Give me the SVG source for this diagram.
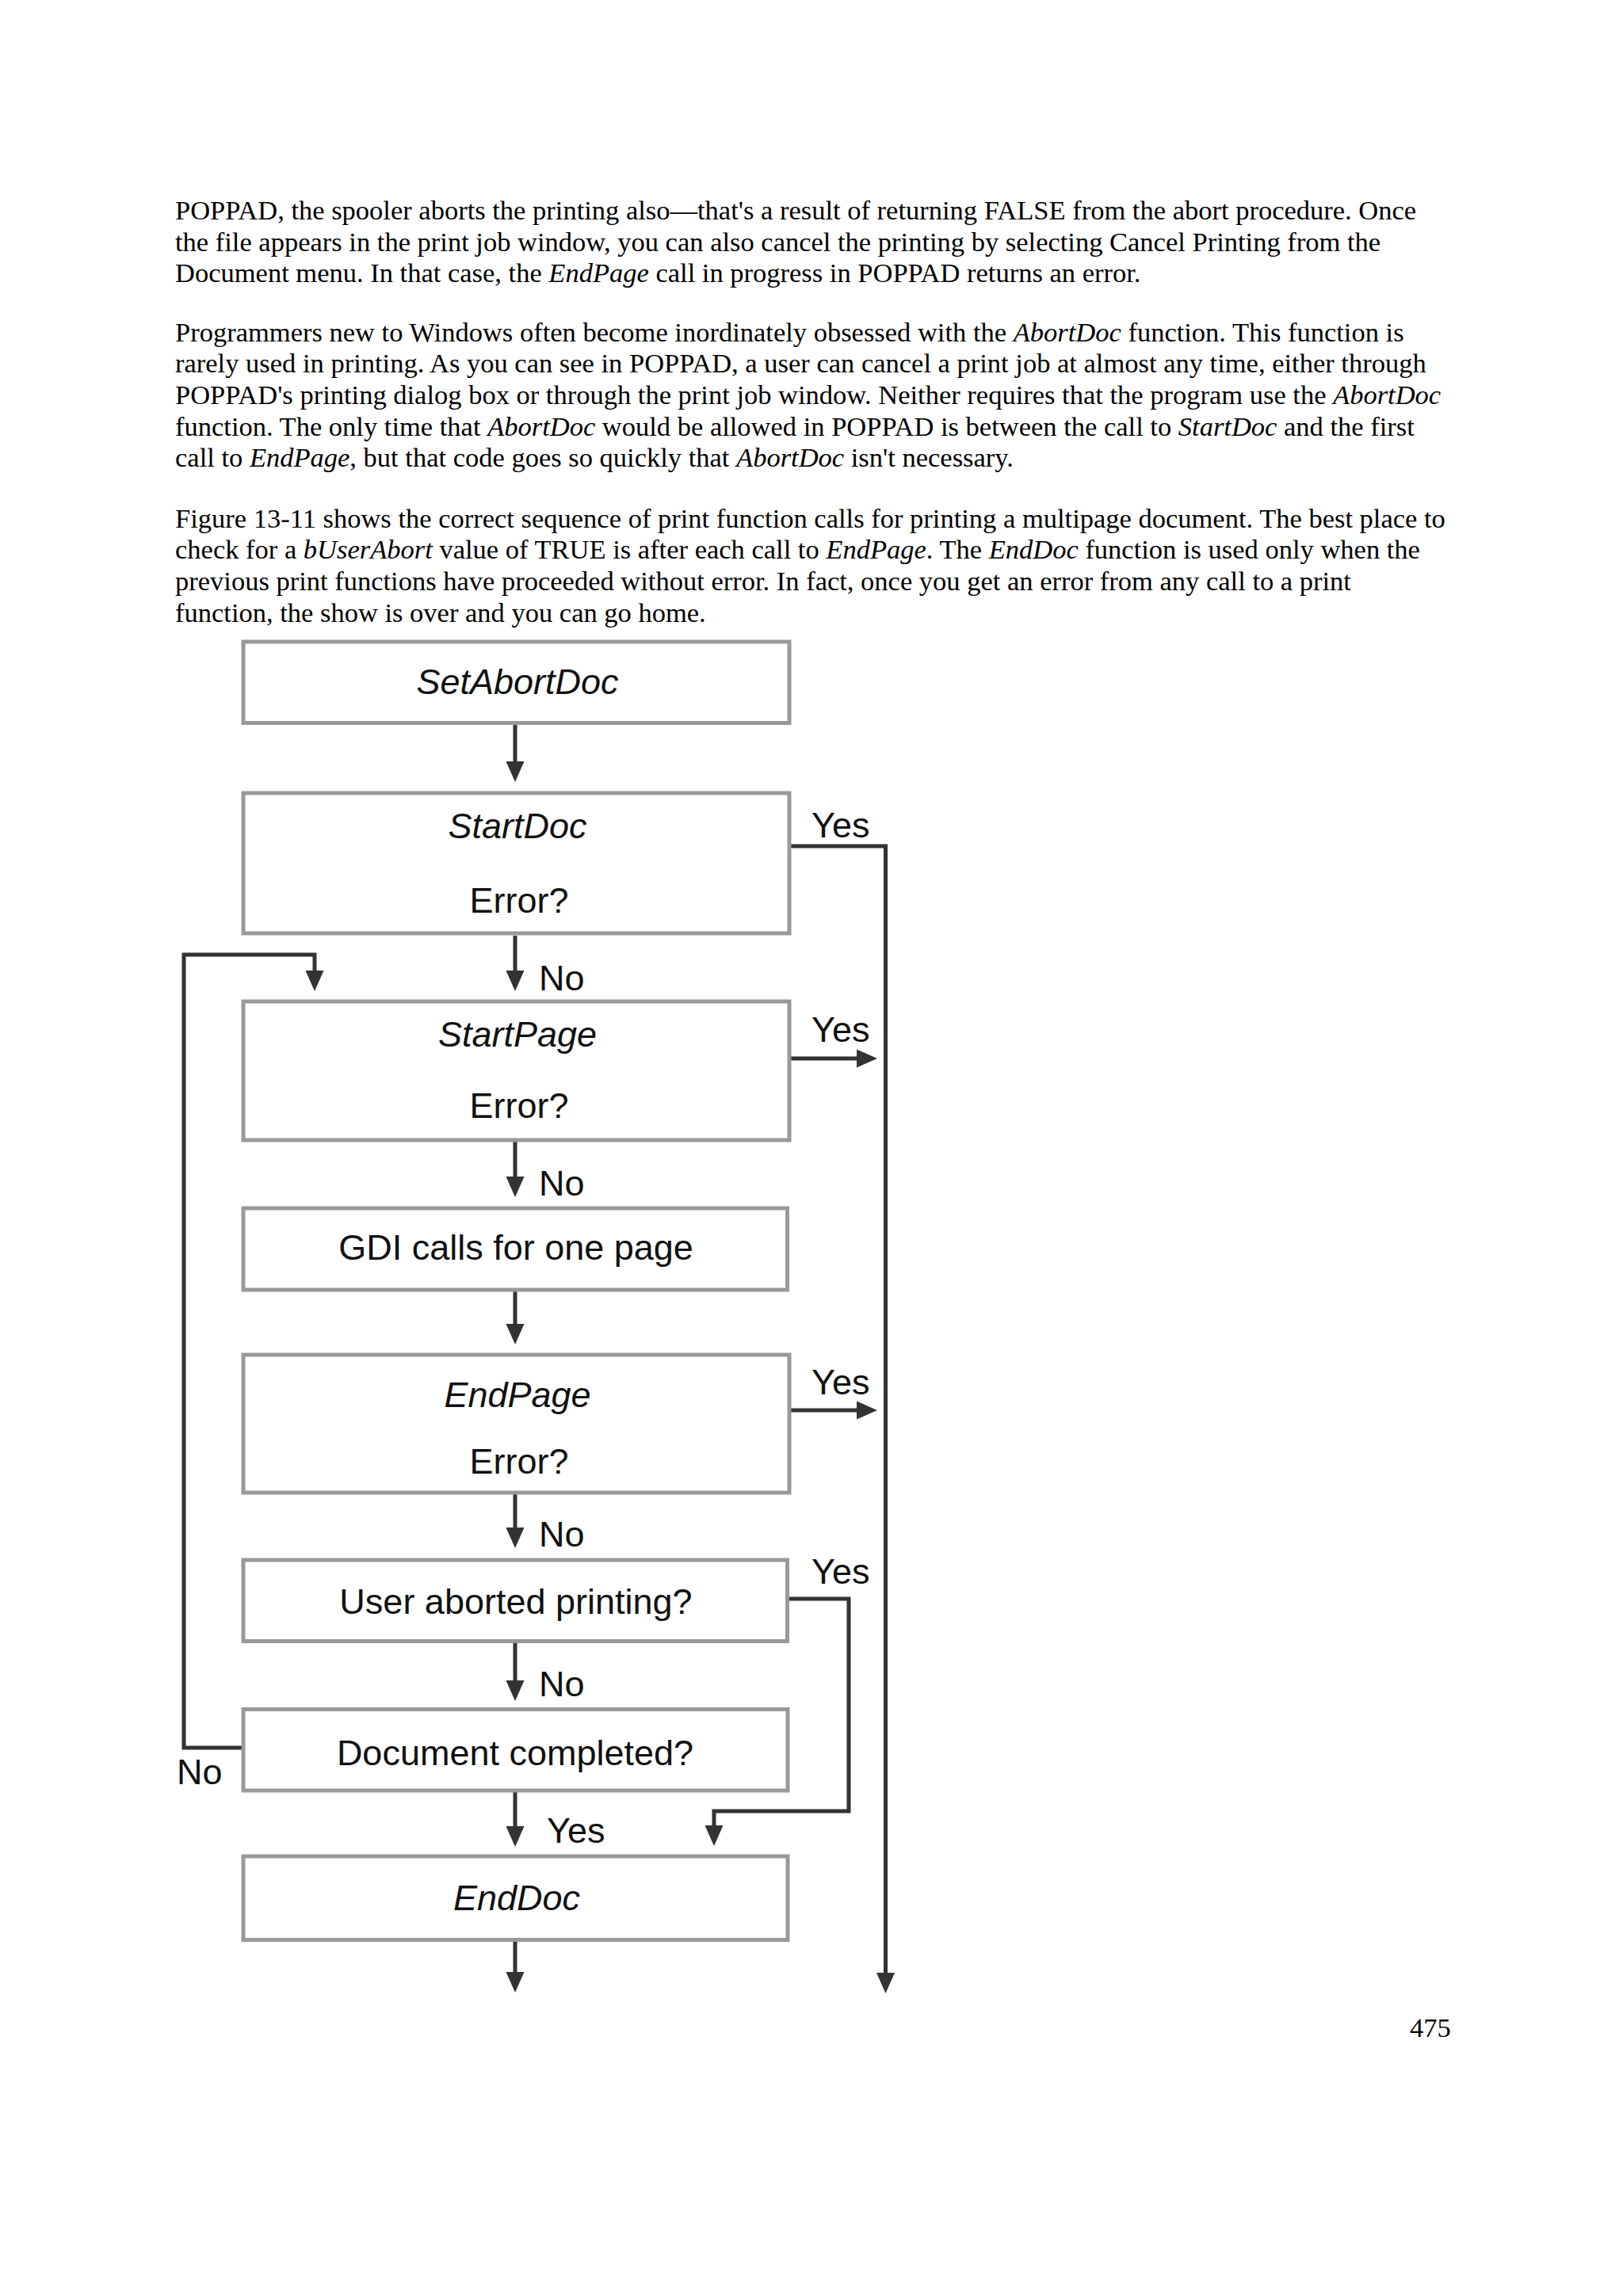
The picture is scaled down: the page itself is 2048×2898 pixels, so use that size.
<svg xmlns="http://www.w3.org/2000/svg" width="2048" height="2898" viewBox="0 0 2048 2898">
<style>
.body{font-family:"Liberation Serif","Times New Roman",serif;font-size:34.5px;fill:#000}
.it{font-style:italic}
.box{fill:#fff;stroke:#999;stroke-width:5}
.lbl{font-family:"Liberation Sans",Arial,Helvetica,sans-serif;font-size:45px;fill:#111}
.mid{text-anchor:middle}
.con{fill:none;stroke:#333;stroke-width:5}
</style>
<defs>
<marker id="ah" markerUnits="userSpaceOnUse" markerWidth="26" markerHeight="23" viewBox="0 0 26 23" refX="18" refY="11.5" orient="auto">
<path d="M0,0 L26,11.5 L0,23 Z" fill="#333"/>
</marker>
</defs>
<rect width="2048" height="2898" fill="#fff"/>
<g id="text">
<text class="body" x="221" y="277">POPPAD, the spooler aborts the printing also—that's a result of returning FALSE from the abort procedure. Once</text>
<text class="body" x="221" y="316.5">the file appears in the print job window, you can also cancel the printing by selecting Cancel Printing from the</text>
<text class="body" x="221" y="356">Document menu. In that case, the <tspan class="it">EndPage</tspan> call in progress in POPPAD returns an error.</text>
<text class="body" x="221" y="430.5">Programmers new to Windows often become inordinately obsessed with the <tspan class="it">AbortDoc</tspan> function. This function is</text>
<text class="body" x="221" y="470.2">rarely used in printing. As you can see in POPPAD, a user can cancel a print job at almost any time, either through</text>
<text class="body" x="221" y="509.9">POPPAD's printing dialog box or through the print job window. Neither requires that the program use the <tspan class="it">AbortDoc</tspan></text>
<text class="body" x="221" y="549.6">function. The only time that <tspan class="it">AbortDoc</tspan> would be allowed in POPPAD is between the call to <tspan class="it">StartDoc</tspan> and the first</text>
<text class="body" x="221" y="589.3">call to <tspan class="it">EndPage</tspan>, but that code goes so quickly that <tspan class="it">AbortDoc</tspan> isn't necessary.</text>
<text class="body" x="221" y="665.5">Figure 13-11 shows the correct sequence of print function calls for printing a multipage document. The best place to</text>
<text class="body" x="221" y="705.2">check for a <tspan class="it">bUserAbort</tspan> value of TRUE is after each call to <tspan class="it">EndPage</tspan>. The <tspan class="it">EndDoc</tspan> function is used only when the</text>
<text class="body" x="221" y="744.9">previous print functions have proceeded without error. In fact, once you get an error from any call to a print</text>
<text class="body" x="221" y="784.6">function, the show is over and you can go home.</text>
<text class="body" x="1779" y="2571">475</text>
</g>
<g id="connectors">
<path class="con" d="M650,915 V979" marker-end="url(#ah)"/>
<path class="con" d="M650,1181 V1243" marker-end="url(#ah)"/>
<path class="con" d="M650,1441 V1503" marker-end="url(#ah)"/>
<path class="con" d="M650,1630 V1689" marker-end="url(#ah)"/>
<path class="con" d="M650,1886 V1946" marker-end="url(#ah)"/>
<path class="con" d="M650,2074 V2139" marker-end="url(#ah)"/>
<path class="con" d="M650,2262 V2323" marker-end="url(#ah)"/>
<path class="con" d="M650,2451 V2507" marker-end="url(#ah)"/>
<path class="con" d="M998,1068 H1117.5 V2508" marker-end="url(#ah)"/>
<path class="con" d="M998,1336 H1099" marker-end="url(#ah)"/>
<path class="con" d="M998,1780 H1099" marker-end="url(#ah)"/>
<path class="con" d="M996,2018 H1071 V2286 H901 V2322" marker-end="url(#ah)"/>
<path class="con" d="M305,2206 H232 V1205 H397 V1243" marker-end="url(#ah)"/>
<text class="lbl" x="1024" y="1056.5">Yes</text>
<text class="lbl" x="1024" y="1315">Yes</text>
<text class="lbl" x="1024" y="1760">Yes</text>
<text class="lbl" x="1024" y="1999">Yes</text>
<text class="lbl" x="680" y="1250">No</text>
<text class="lbl" x="680" y="1509">No</text>
<text class="lbl" x="680" y="1952">No</text>
<text class="lbl" x="680" y="2141">No</text>
<text class="lbl" x="690" y="2326">Yes</text>
<text class="lbl" x="223" y="2252">No</text>
</g>
<g id="setabortdoc">
<rect class="box" x="307" y="810" width="689" height="102.5"/>
<text class="lbl mid it" x="653" y="876">SetAbortDoc</text>
</g>
<g id="startdoc">
<rect class="box" x="307" y="1001" width="689" height="177"/>
<text class="lbl mid it" x="653" y="1058">StartDoc</text>
<text class="lbl mid" x="655" y="1151.5">Error?</text>
</g>
<g id="startpage">
<rect class="box" x="307" y="1264" width="689" height="175"/>
<text class="lbl mid it" x="653" y="1321">StartPage</text>
<text class="lbl mid" x="655" y="1411">Error?</text>
</g>
<g id="gdi">
<rect class="box" x="307" y="1525" width="686.5" height="103"/>
<text class="lbl mid" x="651" y="1590">GDI calls for one page</text>
</g>
<g id="endpage">
<rect class="box" x="307" y="1710" width="689" height="174"/>
<text class="lbl mid it" x="653" y="1776">EndPage</text>
<text class="lbl mid" x="655" y="1860">Error?</text>
</g>
<g id="useraborted">
<rect class="box" x="307" y="1969" width="686.5" height="102.5"/>
<text class="lbl mid" x="651" y="2037">User aborted printing?</text>
</g>
<g id="doccompleted">
<rect class="box" x="307" y="2157.5" width="687" height="102.5"/>
<text class="lbl mid" x="650" y="2228">Document completed?</text>
</g>
<g id="enddoc">
<rect class="box" x="307" y="2343" width="687" height="105.5"/>
<text class="lbl mid it" x="652" y="2411">EndDoc</text>
</g>
</svg>
